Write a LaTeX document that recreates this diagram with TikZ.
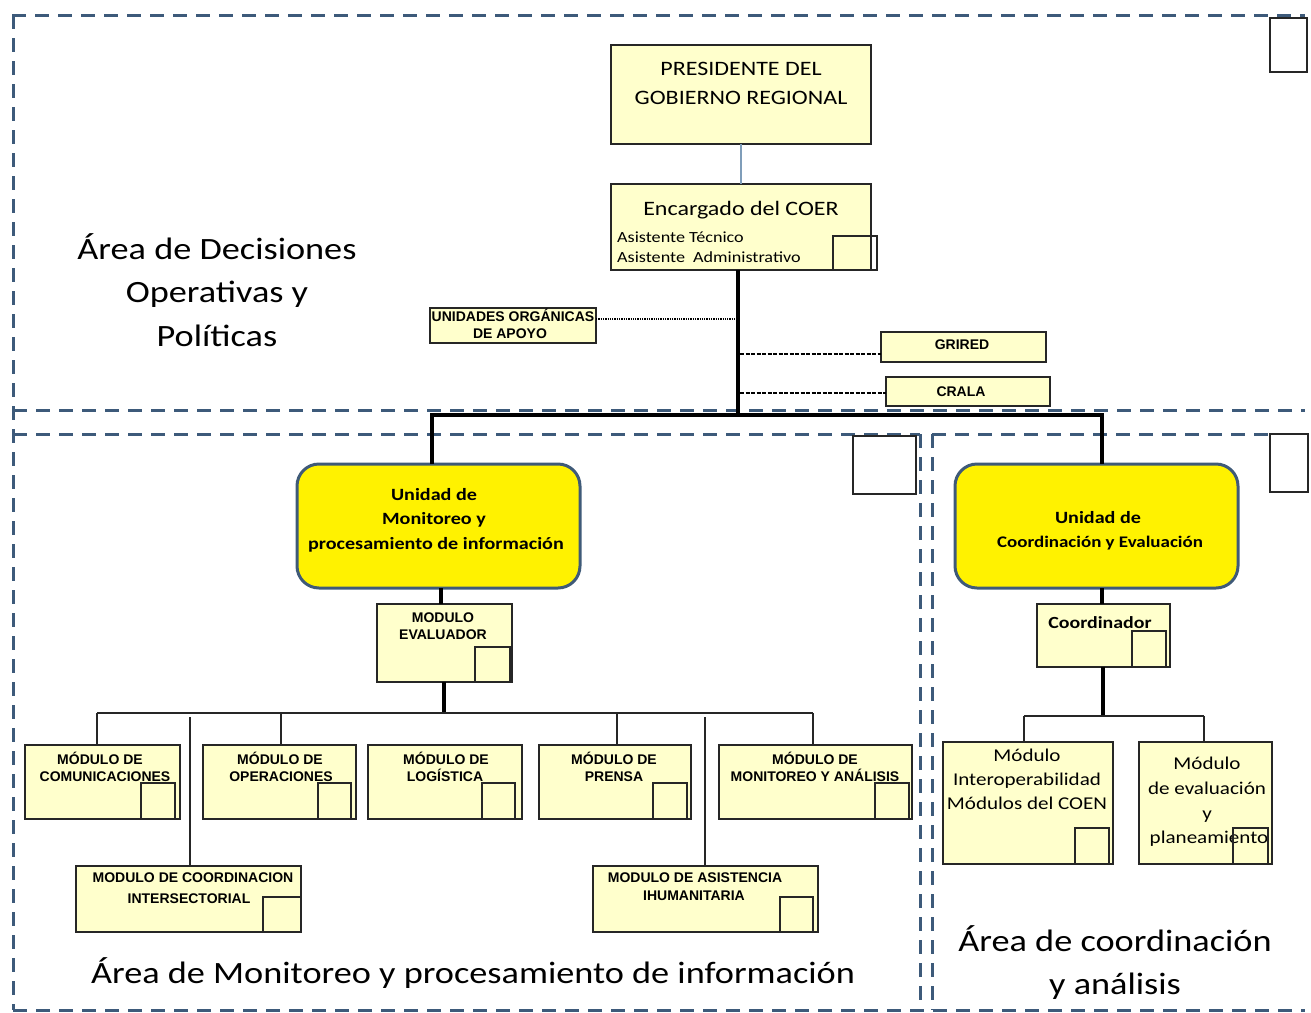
\documentclass[tikz,border=0pt]{standalone}
\usepackage{fontspec}
\setmainfont{Carlito}[FakeStretch=1.17]
\newfontfamily\arb{Liberation Sans}
\definecolor{boxfill}{RGB}{255,255,204}
\definecolor{unitborder}{RGB}{63,90,120}
\definecolor{regcol}{RGB}{61,90,122}
\definecolor{linkcol}{RGB}{127,157,185}
\begin{document}
\begin{tikzpicture}[x=1pt,y=-1pt,
  box/.style={draw=black!85, line width=1.3pt, fill=boxfill, inner sep=0pt, outer sep=0pt, anchor=north west},
  ubox/.style={draw=unitborder, line width=3pt, fill=yellow, rounded corners=22pt, inner sep=0pt, outer sep=0pt, anchor=north west},
  region/.style={draw=regcol, line width=3pt, dash pattern=on 14pt off 9pt},
  sq/.style={draw=black!85, line width=1.2pt},
  wsq/.style={draw=black!85, fill=white, line width=1.2pt},
  thickc/.style={line width=4pt, black},
  thinc/.style={line width=1.3pt, black!85},
  mtxt/.style={font=\arb\bfseries\fontsize{14}{16}\selectfont, inner sep=0pt, anchor=base},
  ctxt/.style={font=\fontsize{20.5}{24}\selectfont, inner sep=0pt, anchor=base},
  stxt/.style={font=\fontsize{15.5}{17}\selectfont, inner sep=0pt, anchor=base west},
  btxt/.style={font=\bfseries\fontsize{17.2}{20}\selectfont, inner sep=0pt, anchor=base},
  rtxt/.style={font=\fontsize{18}{22}\selectfont, inner sep=0pt, anchor=base},
  atxt/.style={font=\fontsize{31}{36}\selectfont, inner sep=0pt, anchor=base}
]
\useasboundingbox (0,0) rectangle (1311,1012);

% ---------- regions ----------
\draw[region] (12,15) -- (1305,15);
\draw[region] (13,15) -- (13,1010);
\draw[region] (13,410) -- (1305,410);
\draw[region] (13,434) -- (920,434);
\draw[region] (932,434) -- (1305,434);
\draw[region] (920,434) -- (920,1010);
\draw[region] (932,434) -- (932,1010);
\draw[region] (13,1010) -- (1305,1010);

% white markers
\draw[wsq] (1270,18) rectangle (1307,72);
\draw[wsq] (853,436) rectangle (916,494);
\draw[wsq] (1270,434) rectangle (1308,492);

% ---------- top area ----------
\node[box, minimum width=260pt, minimum height=99pt] (pres) at (611,45) {};
\node[ctxt] (pres1) at (741,75) {PRESIDENTE DEL};
\node[ctxt] (pres2) at (741,104) {GOBIERNO REGIONAL};

\node[box, minimum width=260pt, minimum height=86pt] (enc) at (611,184) {};
\node[ctxt] (enc1) at (741,215) {Encargado del COER};
\node[stxt] (enc2) at (617,242) {Asistente Técnico};
\node[stxt] (enc3) at (617,262) {Asistente\ \ Administrativo};
\draw[sq] (833,236) rectangle (877,270);

\node[box, minimum width=166pt, minimum height=35pt] (unid) at (430,308) {};
\node[mtxt] (unid1) at (513,321) {UNIDADES ORGÁNICAS};
\node[mtxt] (unid2) at (510,338) {DE APOYO};

\node[box, minimum width=165pt, minimum height=30pt] (grired) at (881,332) {};
\node[mtxt] (grired1) at (962,349) {GRIRED};
\node[box, minimum width=164pt, minimum height=29pt] (crala) at (886,377) {};
\node[mtxt] (crala1) at (961,396) {CRALA};

\node[atxt] (ad1) at (217,259) {Área de Decisiones};
\node[atxt] (ad2) at (217,302) {Operativas y};
\node[atxt] (ad3) at (217,346) {Políticas};

% ---------- units ----------
\node[ubox, minimum width=283pt, minimum height=124pt] (umon) at (297,464) {};
\node[btxt] (umon1) at (434,500) {Unidad de};
\node[btxt] (umon2) at (434,524) {Monitoreo y};
\node[btxt] (umon3) at (436,549) {procesamiento de información};

\node[ubox, minimum width=283pt, minimum height=124pt] (ucoo) at (955,464) {};
\node[btxt] (ucoo1) at (1098,523) {Unidad de};
\node[btxt, font=\bfseries\fontsize{16.2}{20}\selectfont] (ucoo2) at (1100,547) {Coordinación y Evaluación};

% ---------- connectors top ----------
\coordinate (bus) at (738,415);
\draw[line width=1.5pt, linkcol] (pres.south) -- (enc.north);
\draw[thickc] ([xshift=-3pt]enc.south) -- (bus);
\draw[thickc] (umon.north -| 432,0) -- (432,415) -- (1102,415) -- (ucoo.north -| 1102,0);
\draw[line width=1.3pt, densely dotted] (unid.east |- 0,319) -- (738,319);
\draw[line width=1.5pt, dash pattern=on 4pt off 1.5pt] (740,354) -- (grired.west |- 0,354);
\draw[line width=1.5pt, dash pattern=on 4pt off 1.5pt] (740,393) -- (crala.west |- 0,393);

% ---------- monitoring area ----------
\node[box, minimum width=135pt, minimum height=78pt] (meval) at (377,604) {};
\node[mtxt] (meval1) at (443,622) {MODULO};
\node[mtxt] (meval2) at (443,639) {EVALUADOR};
\draw[sq] (475,647) rectangle (510,682);

\draw[thickc] (umon.south -| 441,0) -- (meval.north -| 441,0);

\node[box, minimum width=155pt, minimum height=74pt] (mcom) at (25,745) {};
\node[mtxt] (mcom1) at (100,764) {MÓDULO DE};
\node[mtxt] (mcom2) at (105,781) {COMUNICACIONES};
\draw[sq] (141,783) rectangle (175,819);

\node[box, minimum width=153pt, minimum height=74pt] (mope) at (203,745) {};
\node[mtxt] (mope1) at (280,764) {MÓDULO DE};
\node[mtxt] (mope2) at (281,781) {OPERACIONES};
\draw[sq] (318,783) rectangle (351,819);

\node[box, minimum width=154pt, minimum height=74pt] (mlog) at (368,745) {};
\node[mtxt] (mlog1) at (446,764) {MÓDULO DE};
\node[mtxt] (mlog2) at (445,781) {LOGÍSTICA};
\draw[sq] (482,783) rectangle (515,819);

\node[box, minimum width=152pt, minimum height=74pt] (mpre) at (539,745) {};
\node[mtxt] (mpre1) at (614,764) {MÓDULO DE};
\node[mtxt] (mpre2) at (614,781) {PRENSA};
\draw[sq] (653,783) rectangle (687,819);

\node[box, minimum width=193pt, minimum height=74pt] (mmon) at (719,745) {};
\node[mtxt] (mmon1) at (815,764) {MÓDULO DE};
\node[mtxt] (mmon2) at (815,781) {MONITOREO Y ANÁLISIS};
\draw[sq] (875,783) rectangle (909,819);

\node[box, minimum width=225pt, minimum height=66pt] (mint) at (76,866) {};
\node[mtxt] (mint1) at (193,882) {MODULO DE COORDINACION};
\node[mtxt] (mint2) at (189,903) {INTERSECTORIAL};
\draw[sq] (263,897) rectangle (301,932);

\node[box, minimum width=225pt, minimum height=66pt] (masi) at (593,866) {};
\node[mtxt] (masi1) at (695,882) {MODULO DE ASISTENCIA};
\node[mtxt] (masi2) at (694,900) {IHUMANITARIA};
\draw[sq] (780,897) rectangle (813,932);

\coordinate (mbus) at (444,713);
\draw[thickc] (meval.south -| mbus) -- (mbus);
\draw[thinc] (97,713) -- (813,713);
\draw[thinc] (97,713) -- (mcom.north -| 97,0);
\draw[thinc] (281,713) -- (mope.north -| 281,0);
\draw[thinc] (617,713) -- (mpre.north -| 617,0);
\draw[thinc] (813,713) -- (mmon.north -| 813,0);
\draw[thinc] (190,717) -- (mint.north -| 190,0);
\draw[thinc] (705,717) -- (masi.north -| 705,0);

\node[atxt] (am) at (473,983) {Área de Monitoreo y procesamiento de información};

% ---------- coordination area ----------
\node[box, minimum width=133pt, minimum height=63pt] (mcoo) at (1037,604) {};
\node[font=\bfseries\fontsize{17}{20}\selectfont, inner sep=0pt, anchor=base] (mcoo1) at (1100,628) {Coordinador};
\draw[sq] (1132,631) rectangle (1166,667);
\draw[thickc] (ucoo.south -| 1102,0) -- (mcoo.north -| 1102,0);

\node[box, minimum width=170pt, minimum height=122pt] (mio) at (943,742) {};
\node[rtxt] (mio1) at (1027,761) {Módulo};
\node[rtxt] (mio2) at (1027,785) {Interoperabilidad};
\node[rtxt] (mio3) at (1027,809) {Módulos del COEN};
\draw[sq] (1075,828) rectangle (1109,864);

\node[box, minimum width=133pt, minimum height=122pt] (mep) at (1139,742) {};
\node[rtxt] (mep1) at (1207,769) {Módulo};
\node[rtxt] (mep2) at (1207,794) {de evaluación};
\node[rtxt] (mep3) at (1207,819) {y};
\node[rtxt] (mep4) at (1209,843) {planeamiento};
\draw[sq] (1233,828) rectangle (1268,864);

\coordinate (cbus) at (1103,716);
\draw[thickc] (mcoo.south -| cbus) -- (cbus);
\draw[thinc] (1024,716) -- (1204,716);
\draw[thinc] (1024,716) -- (mio.north -| 1024,0);
\draw[thinc] (1204,716) -- (mep.north -| 1204,0);

\node[atxt] (ac1) at (1115,951) {Área de coordinación};
\node[atxt] (ac2) at (1115,994) {y análisis};
\end{tikzpicture}
\end{document}
